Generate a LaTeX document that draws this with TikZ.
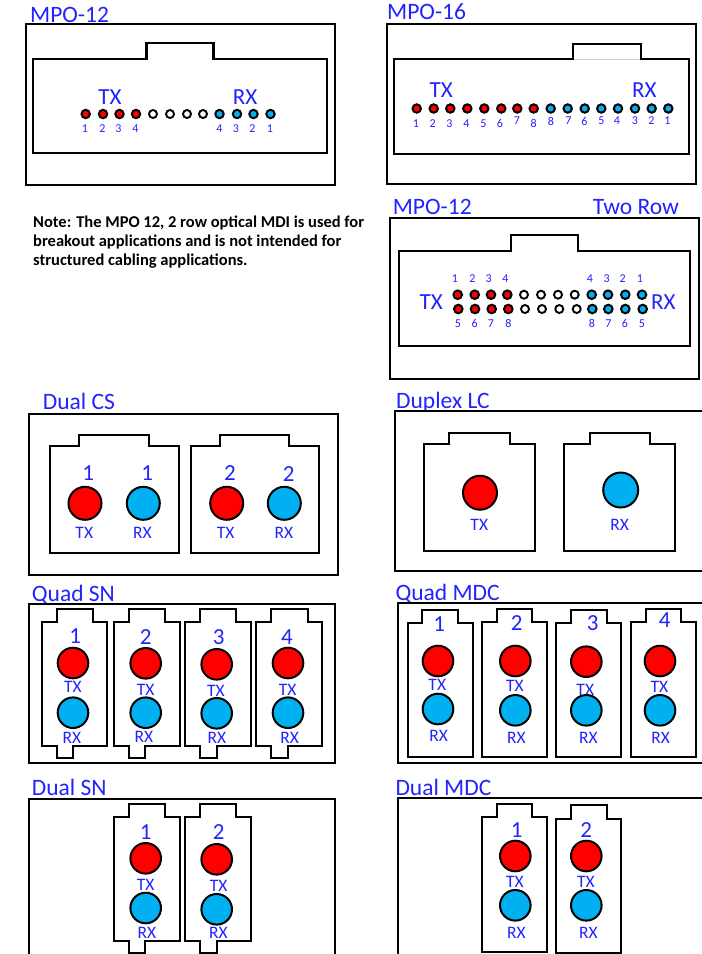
\documentclass[tikz,border=0pt]{standalone}
\usepackage{fontspec}
\setmainfont{Carlito}
\definecolor{labelblue}{RGB}{35,35,255}
\definecolor{rxblue}{RGB}{0,176,240}
\tikzset{
  outerbox/.style={draw=black,line width=2.3pt,line join=miter},
  jackline/.style={draw=black,line width=2.1pt,line join=miter},
  title/.style={anchor=west,inner sep=0pt,text=labelblue,font=\fontsize{23.5}{24}\selectfont,text height=15pt,text depth=0pt},
  biglab/.style={inner sep=0pt,text=labelblue,font=\fontsize{23}{24}\selectfont},
  midlab/.style={inner sep=0pt,text=labelblue,font=\fontsize{17.5}{18}\selectfont},
  tinylab/.style={inner sep=0pt,text=labelblue,font=\fontsize{12}{13}\selectfont},
  txport/.style={draw=black,line width=2pt,fill=red},
  rxport/.style={draw=black,line width=2pt,fill=rxblue},
  noport/.style={draw=black,line width=1.9pt,fill=white},
  notetext/.style={anchor=north west,inner sep=0pt,align=left,font=\fontsize{16.5}{18.6}\selectfont\bfseries}
}
% xl xr top bot notchleft notchright notchtop
\newcommand{\topjack}[7]{\draw[jackline] (#1,#3) -- (#5,#3) -- (#5,#7) -- (#6,#7) -- (#6,#3) -- (#2,#3) -- (#2,#4) -- (#1,#4) -- cycle;}
% xl xr top bot notchleft notchright notchtop bottomnotchright bottomnotchbottom
\newcommand{\snjack}[9]{\draw[jackline] (#1,#3) -- (#5,#3) -- (#5,#7) -- (#6,#7) -- (#6,#3) -- (#2,#3) -- (#2,#4) -- (#8,#4) -- (#8,#9) -- (#5,#9) -- (#5,#4) -- (#1,#4) -- cycle;}
\begin{document}
\begin{tikzpicture}[x=1pt,y=-1pt]
\useasboundingbox (0,0) rectangle (702,954);
\clip (0,0) rectangle (702,954);
\fill[white] (0,0) rectangle (702,954);

% ---------- MPO-12
\node[title] (t1) at (30,14.5) {MPO-12};
\draw[outerbox] (26,24) rectangle (335,185);
\topjack{33}{327}{59}{153}{146.5}{213.5}{43}
\node[biglab] (mtx) at (110,97.5) {TX};
\node[biglab] (mrx) at (245,97.5) {RX};
\foreach \x/\n in {85/1,102.5/2,118.5/3,135.5/4,219.5/4,236/3,252.5/2,270/1}
  \node[tinylab] at (\x,129) {\n};
\foreach \x in {85.7,103,119.5,136} \draw[txport] (\x,114) circle[radius=4.2pt];
\foreach \x in {153,170,187,203} \draw[noport] (\x,114) circle[radius=4pt];
\foreach \x in {219.5,237,253.5,270.5} \draw[rxport] (\x,114) circle[radius=4.2pt];

% ---------- MPO-16
\node[title] (t2) at (387,12) {MPO-16};
\draw[outerbox] (386.7,24) rectangle (696.3,184);
\draw[jackline] (572.7,59) -- (394.3,59) -- (394.3,154) -- (689.3,154) -- (689.3,59) -- (641,59) -- (641,44) -- (572.7,44) -- cycle;
\draw[white!80!black,line width=1pt] (573.7,59) -- (640,59);
\node[biglab] (stx) at (441.3,90) {TX};
\node[biglab] (srx) at (644.3,90) {RX};
\foreach \x/\y/\n in {416/123.5/1,432.7/123.5/2,449.3/123.5/3,466.3/123.5/4,483.3/123.5/5,500/123.5/6,517/121/7,533.7/123.5/8,551/121/8,568.3/121/7,584.3/121/6,601.3/121/5,617/121/4,635/121/3,651.3/121/2,667.3/121/1}
  \node[tinylab] at (\x,\y) {\n};
\foreach \x in {416.7,433.7,450.3,467.3,484.3,501.3,517.3,533.7} \draw[txport] (\x,108.5) circle[radius=4.2pt];
\foreach \x in {550.7,567.7,584.7,601.3,618,635,651.7,668.3} \draw[rxport] (\x,108.5) circle[radius=4.2pt];

% ---------- Note
\node[notetext] (note) at (33,216) {Note: The MPO 12, 2 row optical MDI is used for\\breakout applications and is not intended for\\structured cabling applications.};

% ---------- MPO-12 two row
\node[title] (t3) at (392.7,207) {MPO-12};
\node[title] (t3b) at (592.7,207) {Two Row};
\draw[outerbox] (390.3,218.3) rectangle (699,379);
\topjack{399.3}{690.3}{251.3}{345.7}{511.3}{578}{234.7}
\node[biglab] (ttx) at (431.3,302.3) {TX};
\node[biglab] (trx) at (663.3,301.7) {RX};
\foreach \x/\n in {455/1,472.3/2,488.7/3,505.3/4,590/4,606.7/3,622.7/2,640/1}
  \node[tinylab] at (\x,279) {\n};
\foreach \x/\n in {458/5,474.7/6,491/7,508.3/8,592/8,608.3/7,625/6,642/5}
  \node[tinylab] at (\x,323.3) {\n};
\foreach \x in {457.7,474.7,491,507.3} \draw[txport] (\x,294.7) circle[radius=4.3pt];
\foreach \x in {458.3,475,491.7,508.3} \draw[txport] (\x,309) circle[radius=4.3pt];
\foreach \x in {524,541,558,574.7} \draw[noport] (\x,294.7) circle[radius=4pt];
\foreach \x in {525,542,559.3,576.7} \draw[noport] (\x,309) circle[radius=4pt];
\foreach \x in {591.7,608,625.3,642} \draw[rxport] (\x,294.7) circle[radius=4.3pt];
\foreach \x in {592.3,608.3,625.3,642.7} \draw[rxport] (\x,309) circle[radius=4.3pt];

% ---------- Dual CS
\node[title] (t4) at (42.7,402) {Dual CS};
\draw[outerbox] (29.3,414.3) rectangle (338,575);
\topjack{50}{178.7}{446}{553.3}{79.3}{149}{435}
\topjack{191}{318.7}{446}{553.3}{220}{289.3}{435}
\foreach \x/\y/\n in {88.3/473/1,147.3/473/1,230/473/2,288.7/474/2}
  \node[biglab] at (\x,\y) {\n};
\foreach \x/\n in {84.3/TX,142.3/RX,225.7/TX,284/RX}
  \node[midlab] at (\x,533) {\n};
\foreach \x in {85,226.7} \draw[txport] (\x,503.3) circle[radius=16.5pt];
\foreach \x in {143.3,284.3} \draw[rxport] (\x,503.3) circle[radius=16.5pt];

% ---------- Duplex LC
\node[title] (t5) at (396,400.7) {Duplex LC};
\draw[outerbox] (395.3,411) rectangle (712,571);
\topjack{424.3}{534.7}{443.7}{550.7}{449.3}{509.7}{432.7}
\topjack{564.3}{674.7}{443.7}{550.7}{589.7}{649.7}{432.7}
\node[midlab] (ltx) at (479.3,525) {TX};
\node[midlab] (lrx) at (619.7,525) {RX};
\draw[txport] (480,492.7) circle[radius=17pt];
\draw[rxport] (620.7,490) circle[radius=17.5pt];

% ---------- Quad SN
\node[title] (t6) at (31.7,594) {Quad SN};
\draw[outerbox] (29.3,604) rectangle (335.3,763);
\snjack{41.7}{107.3}{622}{745.7}{56.7}{93}{609}{72.7}{758.3}
\snjack{114}{179.7}{622}{745.7}{128.7}{165}{609}{145}{758.3}
\snjack{185.3}{250.7}{622}{745.7}{200}{236.3}{609}{216.7}{758.3}
\snjack{256.3}{322}{622}{745.7}{271.3}{307.7}{609}{288}{758.3}
\foreach \x/\y/\n in {75.3/636/1,145.7/637/2,218.7/637/3,287/637/4}
  \node[biglab] at (\x,\y) {\n};
\foreach \x/\y in {73/687.3,145.7/690.3,216/691.3,287.7/690.3}
  \node[midlab] at (\x,\y) {TX};
\foreach \x/\y in {72/738.3,144/737.3,217/738.3,289.7/738.3}
  \node[midlab] at (\x,\y) {RX};
\foreach \x/\y in {73/663,145.7/663.3,216.7/664.3,288/663} \draw[txport] (\x,\y) circle[radius=15.3pt];
\foreach \x/\y in {73/712.7,145.7/712.7,216.7/713.3,288/712.7} \draw[rxport] (\x,\y) circle[radius=15.3pt];

% ---------- Quad MDC
\node[title] (t7) at (395.3,593.3) {Quad MDC};
\draw[outerbox] (397.7,602.7) rectangle (712,763);
\topjack{407.7}{473}{623.3}{757}{422.3}{458.3}{610}
\topjack{482.3}{546.7}{622.3}{757}{496.7}{532.3}{609}
\topjack{555.7}{621.3}{622.7}{757}{570.7}{607}{610}
\topjack{631}{696.3}{622.3}{757}{645.7}{681.3}{609}
\foreach \x/\y/\n in {439.3/624.3/1,516.7/622.7/2,592.7/622.7/3,664.7/620/4}
  \node[biglab] at (\x,\y) {\n};
\foreach \x/\y in {437.3/685.3,515/686,585.3/689.7,659.3/687}
  \node[midlab] at (\x,\y) {TX};
\foreach \x/\y in {438.7/736.3,516.3/738,588.3/738,660.7/738}
  \node[midlab] at (\x,\y) {RX};
\foreach \x/\y in {438/661,515.3/661,586.3/661.7,660/661} \draw[txport] (\x,\y) circle[radius=15.3pt];
\foreach \x/\y in {438/709,515.3/710.3,586.3/710.3,660/710.3} \draw[rxport] (\x,\y) circle[radius=15.3pt];

% ---------- Dual SN
\node[title] (t8) at (31.7,788.3) {Dual SN};
\draw[outerbox] (29.3,799.3) rectangle (335.3,970);
\snjack{114}{179.7}{817.3}{941.3}{128.7}{165}{804}{145}{953.3}
\snjack{185.3}{250.7}{817.3}{941.3}{200}{236.3}{804}{216.7}{953.3}
\foreach \x/\n in {145.7/1,218.7/2} \node[biglab] at (\x,831.7) {\n};
\node[midlab] (dsa) at (145.7,885.3) {TX};
\node[midlab] (dsb) at (218.7,886) {TX};
\node[midlab] (dsc) at (147,933) {RX};
\node[midlab] (dsd) at (218.3,933) {RX};
\draw[txport] (145.7,858.3) circle[radius=15.3pt];
\draw[rxport] (145.7,908) circle[radius=15.3pt];
\draw[txport] (216.7,859.3) circle[radius=15.3pt];
\draw[rxport] (216.7,909.3) circle[radius=15.3pt];

% ---------- Dual MDC
\node[title] (t9) at (395.3,788.3) {Dual MDC};
\draw[outerbox] (397.7,798.3) rectangle (712,970);
\topjack{482.3}{546.7}{817.3}{952.3}{496.7}{532.3}{804}
\topjack{555.7}{621.3}{818.7}{953}{570.7}{607}{805}
\foreach \x/\n in {516.7/1,586.3/2} \node[biglab] at (\x,830) {\n};
\foreach \x in {515,586} \node[midlab] at (\x,882.3) {TX};
\foreach \x in {516.3,588.3} \node[midlab] at (\x,933.3) {RX};
\foreach \x in {515.3,586.3} \draw[txport] (\x,856) circle[radius=15.3pt];
\foreach \x in {515.3,586.3} \draw[rxport] (\x,905.3) circle[radius=15.3pt];
\end{tikzpicture}
\end{document}
